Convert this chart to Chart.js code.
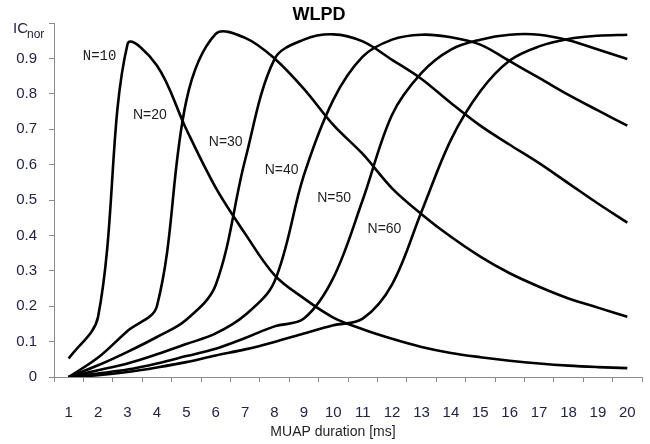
<!DOCTYPE html>
<html>
<head>
<meta charset="utf-8">
<script src="https://cdn.jsdelivr.net/npm/chart.js@4.4.1/dist/chart.umd.min.js"></script>
<style>
  html, body { margin: 0; padding: 0; background: #fff; }
  #wrap { width: 650px; height: 444px; }
</style>
</head>
<body>
<div id="wrap"><canvas id="chart" width="650" height="444"></canvas></div>
<script>
// MUAP duration categories (ms)
const durations = ['1', '2', '3', '4', '5', '6', '7', '8', '9', '10',
  '11', '12', '13', '14', '15', '16', '17', '18', '19', '20'];

// IC_nor values, one array per N
const n10 = [0.052, 0.17, 0.94, 0.88, 0.70, 0.535, 0.405, 0.288, 0.222, 0.168,
  0.135, 0.108, 0.085, 0.068, 0.056, 0.046, 0.038, 0.032, 0.028, 0.025];
const n20 = [0.0, 0.055, 0.13, 0.2, 0.78, 0.969, 0.958, 0.90, 0.814, 0.712,
  0.63, 0.533, 0.46, 0.396, 0.34, 0.293, 0.255, 0.222, 0.196, 0.17];
const n30 = [0.0, 0.033, 0.071, 0.113, 0.162, 0.26, 0.613, 0.898, 0.953, 0.968,
  0.948, 0.896, 0.842, 0.774, 0.71, 0.656, 0.604, 0.547, 0.49, 0.436];
const n40 = [0.0, 0.019, 0.038, 0.064, 0.093, 0.123, 0.175, 0.27, 0.57, 0.783,
  0.905, 0.953, 0.967, 0.96, 0.939, 0.892, 0.845, 0.797, 0.753, 0.71];
const n50 = [0.0, 0.01, 0.021, 0.038, 0.059, 0.08, 0.11, 0.143, 0.165, 0.28,
  0.5, 0.741, 0.859, 0.925, 0.953, 0.967, 0.967, 0.951, 0.925, 0.898];
const n60 = [0.0, 0.005, 0.014, 0.027, 0.042, 0.061, 0.078, 0.099, 0.123, 0.146,
  0.165, 0.262, 0.467, 0.67, 0.807, 0.894, 0.934, 0.955, 0.964, 0.967];

const seriesNames = ['N=10', 'N=20', 'N=30', 'N=40', 'N=50', 'N=60'];
const seriesData = [n10, n20, n30, n40, n50, n60];

// y axis ticks
const yTicks = [0, 0.1, 0.2, 0.3, 0.4, 0.5, 0.6, 0.7, 0.8, 0.9, 1.0];

// where each "N=.." label sits, in chart units (category index, IC value)
const labelSpots = [
  [1.05, 0.905], [2.76, 0.741], [5.34, 0.664],
  [7.24, 0.585], [9.03, 0.504], [10.74, 0.419]
];

const axisGrey = '#8c8c8c';
const tickColor = '#23234a';

// title, curve labels, IC_nor and axis title
const annotate = {
  id: 'annotate',
  afterDraw(chart) {
    const { ctx, scales: { x, y } } = chart;
    ctx.save();
    ctx.fillStyle = '#000';
    ctx.textBaseline = 'middle';
    ctx.textAlign = 'center';
    ctx.font = 'bold 18px "Liberation Sans", Arial, sans-serif';
    ctx.fillText('WLPD', 319, 15);

    ctx.fillStyle = '#1e1e1e';
    seriesNames.forEach((name, i) => {
      const [ix, iv] = labelSpots[i];
      ctx.font = i === 0 ? '14px "Liberation Mono", monospace'
                         : '14px "Liberation Sans", Arial, sans-serif';
      ctx.fillText(name, x.getPixelForValue(ix), y.getPixelForValue(iv));
    });

    ctx.font = '14px "Liberation Sans", Arial, sans-serif';
    ctx.fillText('MUAP duration [ms]', 333, 432);

    // IC with subscript nor
    ctx.textAlign = 'left';
    ctx.textBaseline = 'alphabetic';
    ctx.fillStyle = tickColor;
    ctx.font = '15px "Liberation Sans", Arial, sans-serif';
    ctx.fillText('IC', 13, 33);
    ctx.font = '12px "Liberation Sans", Arial, sans-serif';
    ctx.fillText('nor', 27, 38);
    ctx.restore();
  }
};

new Chart(document.getElementById('chart'), {
  type: 'line',
  data: {
    labels: durations,
    datasets: seriesData.map((vals, i) => ({
      label: seriesNames[i],
      data: vals,
      borderColor: '#000',
      borderWidth: 2.6,
      pointRadius: 0,
      tension: 0.35,
      fill: false
    }))
  },
  options: {
    responsive: false,
    animation: false,
    layout: { padding: { top: 23, right: 8, left: 0, bottom: 0 } },
    plugins: {
      legend: { display: false },
      title: { display: false },
      tooltip: { enabled: false }
    },
    scales: {
      x: {
        type: 'category',
        offset: true,
        grid: { offset: true, drawOnChartArea: false, drawTicks: true, tickLength: 5, color: axisGrey },
        border: { display: true, color: axisGrey, width: 1 },
        ticks: {
          color: tickColor,
          font: { family: '"Liberation Sans", Arial, sans-serif', size: 15 },
          padding: 22,
          maxRotation: 0,
          autoSkip: false
        },
        afterFit: (s) => { s.height = 67; s.paddingLeft = 0; s.paddingRight = 0; }
      },
      y: {
        min: 0,
        max: 1,
        afterBuildTicks: (s) => { s.ticks = yTicks.map(v => ({ value: v })); },
        grid: { drawOnChartArea: false, drawTicks: true, tickLength: 5, color: axisGrey },
        border: { display: true, color: axisGrey, width: 1 },
        ticks: {
          color: tickColor,
          font: { family: '"Liberation Sans", Arial, sans-serif', size: 15 },
          padding: 12,
          callback: (v) => (v >= 1 ? '' : String(Math.round(v * 10) / 10))
        },
        afterFit: (s) => { s.width = 54; }
      }
    }
  },
  plugins: [annotate]
});
</script>
</body>
</html>
